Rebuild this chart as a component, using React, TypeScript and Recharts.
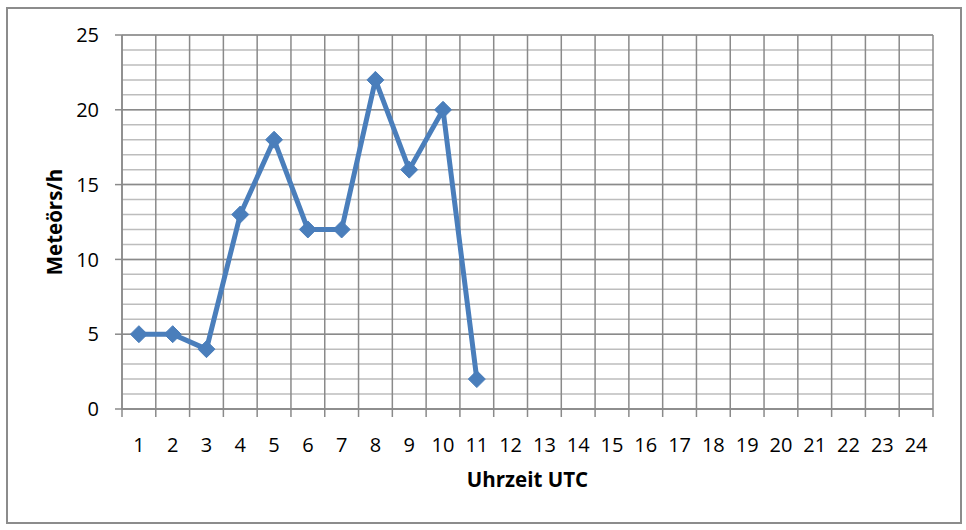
import React from 'react';
import { LineChart, Line, XAxis, YAxis, CartesianGrid } from 'recharts';

const hours = [1, 2, 3, 4, 5, 6, 7, 8, 9, 10, 11, 12, 13, 14, 15, 16, 17, 18, 19, 20, 21, 22, 23, 24];
const meteorsPerHour = [5, 5, 4, 13, 18, 12, 12, 22, 16, 20, 2];
const boundaries = [0.5, 1.5, 2.5, 3.5, 4.5, 5.5, 6.5, 7.5, 8.5, 9.5, 10.5, 11.5, 12.5, 13.5, 14.5, 15.5, 16.5, 17.5, 18.5, 19.5, 20.5, 21.5, 22.5, 23.5, 24.5];
const majorTicks = [0, 5, 10, 15, 20, 25];
const minorTicks = [0, 1, 2, 3, 4, 5, 6, 7, 8, 9, 10, 11, 12, 13, 14, 15, 16, 17, 18, 19, 20, 21, 22, 23, 24, 25];

const data = meteorsPerHour.map((v, i) => ({ hour: hours[i], value: v }));

const FONT = '"Open Sans", "Liberation Sans", sans-serif';
const BLUE = '#4a7ebb';

const Diamond = (props: any) => {
  const { cx, cy } = props;
  if (cx == null || cy == null) return null;
  const r = 8.5;
  return (
    <polygon
      points={`${cx},${cy - r} ${cx + r},${cy} ${cx},${cy + r} ${cx - r},${cy}`}
      fill={BLUE}
      stroke={BLUE}
      strokeWidth={1}
    />
  );
};

const EmptyTick = () => <g />;

export default function App() {
  return (
    <div style={{ position: 'absolute', left: 0, top: 0, width: 966, height: 530, background: '#fff' }}>
      <div
        style={{
          position: 'absolute',
          left: 6,
          top: 7,
          width: 952,
          height: 513,
          border: '2px solid #8c8c8c',
          boxSizing: 'content-box',
        }}
      />
      <LineChart
        width={966}
        height={530}
        data={data}
        margin={{ top: 35, right: 33, left: 0, bottom: 0 }}
        style={{ position: 'absolute', left: 0, top: 0 }}
      >
        <CartesianGrid
          xAxisId="labels"
          horizontalValues={minorTicks}
          vertical={false}
          stroke="#bdbdbd"
          strokeWidth={1.5}
        />
        <CartesianGrid
          xAxisId="labels"
          horizontalValues={majorTicks}
          verticalValues={boundaries}
          stroke="#8a8a8a"
          strokeWidth={1.5}
        />
        <XAxis
          type="number"
          dataKey="hour"
          domain={[0.5, 24.5]}
          ticks={boundaries}
          interval={0}
          tick={<EmptyTick />}
          tickSize={8}
          height={1}
          stroke="#8a8a8a"
          strokeWidth={1.5}
        />
        <XAxis
          xAxisId="labels"
          type="number"
          dataKey="hour"
          domain={[0.5, 24.5]}
          ticks={hours}
          interval={0}
          tickLine={false}
          axisLine={false}
          height={120}
          tickMargin={22}
          tick={{ fontFamily: FONT, fontSize: 20, fill: '#000' }}
          label={{
            value: 'Uhrzeit UTC',
            position: 'insideTop',
            offset: 62,
            style: { fontFamily: FONT, fontSize: 20.5, fontWeight: 'bold', fill: '#000' },
          }}
        />
        <YAxis
          domain={[0, 25]}
          ticks={majorTicks}
          interval={0}
          width={122}
          tickSize={7}
          tickMargin={16}
          stroke="#8a8a8a"
          strokeWidth={1.5}
          tick={{ fontFamily: FONT, fontSize: 20, fill: '#000' }}
          label={{
            content: (p: any) => {
              const vb = p.viewBox || {};
              const x = (vb.x || 0) + 54;
              const y = (vb.y || 0) + (vb.height || 0) / 2;
              return (
                <text
                  x={x}
                  y={y}
                  transform={`rotate(-90, ${x}, ${y})`}
                  textAnchor="middle"
                  dominantBaseline="central"
                  fontFamily={FONT}
                  fontSize={20.5}
                  fontWeight="bold"
                  fill="#000"
                >
                  Meteörs/h
                </text>
              );
            },
          }}
        />
        <Line
          xAxisId="labels"
          type="linear"
          dataKey="value"
          stroke={BLUE}
          strokeWidth={5}
          dot={<Diamond />}
          activeDot={false}
          isAnimationActive={false}
        />
      </LineChart>
    </div>
  );
}
